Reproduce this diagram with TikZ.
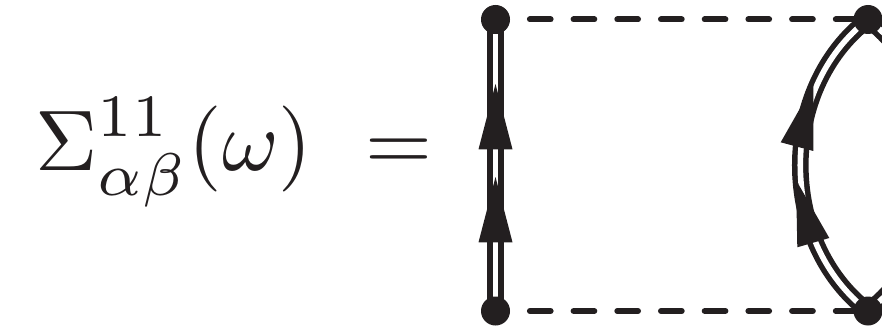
\documentclass[tikz,border=0pt]{standalone}
\usetikzlibrary{backgrounds}
\definecolor{ink}{HTML}{231F20}
\tikzset{
  dot/.style={circle,fill=ink,draw=none,minimum size=29pt,inner sep=0pt},
  prop/.style={draw=ink,line width=5.5pt,double=white,double distance=5.6pt},
  dashline/.style={draw=ink,line width=6pt,line cap=round,dash pattern=on 20.7pt off 23pt,dash phase=24pt},
  headfill/.style={fill=ink},
  formula/.style={text=ink,inner sep=0pt,scale=8.6}
}
\begin{document}
\begin{tikzpicture}[x=1pt,y=-1pt]
\useasboundingbox (0,0) rectangle (882,331);
\clip (0,0) rectangle (882,331);
\node[dot] (tl) at (495.5,19.5) {};
\node[dot] (bl) at (495.5,311) {};
\node[dot] (tr) at (868,19.5) {};
\node[dot] (br) at (868,311) {};
\begin{pgfonlayer}{background}
\draw[dashline] (tl) -- (tr);
\draw[dashline] (bl) -- (br);
\draw[prop] (bl.center) -- (tl.center);
\draw[prop] (br.center) to[bend right=52.6] (tr.center);
\draw[prop] (br.center) to[bend left=52.6] (tr.center);
\end{pgfonlayer}
\fill[headfill] (495.5,84) -- (512.5,149.3) -- (478.5,149.3) -- cycle;
\fill[headfill] (495.5,177) -- (512.5,242.3) -- (478.5,242.3) -- cycle;
\fill[headfill] (813.3,85) -- (813.3,151) -- (780.7,142.3) -- cycle;
\fill[headfill] (796,180) -- (829.3,238) -- (797.3,247.3) -- cycle;
\node[formula,anchor=base west] (sig) at (34,171) {$\Sigma^{\raisebox{0.35pt}{$\scriptstyle 11$}}_{\raisebox{0.35pt}{$\scriptstyle\alpha\beta$}}(\omega)$};
\node[formula,anchor=base west] (eq) at (363.5,171) {$=$};
\end{tikzpicture}
\end{document}
